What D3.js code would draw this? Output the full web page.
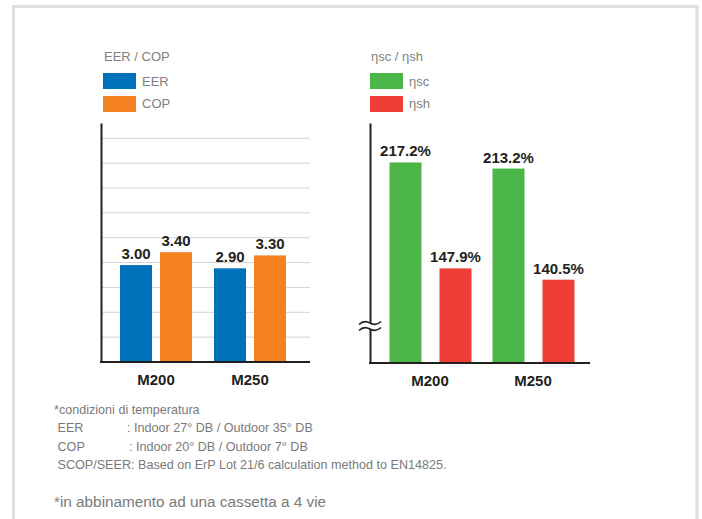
<!DOCTYPE html>
<html>
<head>
<meta charset="utf-8">
<script src="https://cdn.jsdelivr.net/npm/d3@7"></script>
<style>
  body { margin: 0; background: #fff; }
  svg text { font-family: "Liberation Sans", Arial, sans-serif; }
</style>
</head>
<body>
<div id="chart"></div>
<script>
// --- data ---
const models = ["M200", "M250"];

const efficiencySeries = ["EER", "COP"];
const eerValues = [3.00, 2.90];
const copValues = [3.40, 3.30];
const efficiencyLabels = ["3.00", "2.90"];
const copLabels = ["3.40", "3.30"];

const seasonalSeries = ["ηsc", "ηsh"];
const nscValues = [217.2, 213.2];
const nshValues = [147.9, 140.5];

const notes = [
  "*condizioni di temperatura",
  " EER",
  " COP",
  " SCOP/SEER: Based on ErP Lot 21/6 calculation method to EN14825."
];
const noteDetails = [null, ": Indoor 27° DB / Outdoor 35° DB", ": Indoor 20° DB / Outdoor 7° DB", null];
const footer = "*in abbinamento ad una cassetta a 4 vie";

const colors = {
  EER: "#0071bb", COP: "#f58220",
  "ηsc": "#4cb748", "ηsh": "#ee3e36"
};

// --- drawing ---
const W = 702, H = 519;
const svg = d3.select("#chart").append("svg")
  .attr("width", W).attr("height", H);

// frame
svg.append("rect")
  .attr("x", 13.5).attr("y", 6.5)
  .attr("width", 683.5).attr("height", 530)
  .attr("fill", "none").attr("stroke", "#dedede").attr("stroke-width", 3);

function legend(x, title, series) {
  const g = svg.append("g").attr("transform", `translate(${x},0)`);
  g.append("text").attr("x", 1).attr("y", 61)
    .attr("font-size", 13).attr("fill", "#808080").text(title);
  series.forEach((s, i) => {
    g.append("rect").attr("x", 0).attr("y", 73 + i * 23)
      .attr("width", 33).attr("height", 16).attr("fill", colors[s]);
    g.append("text").attr("x", 39).attr("y", 86 + i * 22)
      .attr("font-size", 13).attr("fill", "#808080").text(s);
  });
}

function barChart(opt) {
  const g = svg.append("g");
  const x = d3.scaleBand().domain(models).range(opt.band);
  const xs = d3.scaleBand().domain(opt.series).range(opt.inner).paddingInner(opt.pad);
  const y = d3.scaleLinear().domain(opt.domain).range([opt.base, 123]);

  if (opt.grid) {
    const gy = d3.scaleLinear().domain([0, 9]).range([opt.base, 138.3]);
    g.append("g").selectAll("line").data(d3.range(1, 10)).join("line")
      .attr("x1", opt.axisX).attr("x2", opt.right)
      .attr("y1", d => gy(d)).attr("y2", d => gy(d))
      .attr("stroke", "#d3d3d3").attr("stroke-width", 1);
  }

  const rows = [];
  models.forEach((m, i) => {
    opt.series.forEach((s, j) => {
      rows.push({ m, s, v: opt.values[j][i], label: opt.labels[j][i] });
    });
  });

  g.append("g").selectAll("rect").data(rows).join("rect")
    .attr("x", d => x(d.m) + xs(d.s))
    .attr("width", xs.bandwidth())
    .attr("y", d => y(d.v))
    .attr("height", d => opt.base - y(d.v))
    .attr("fill", d => colors[d.s]);

  g.append("g").selectAll("text").data(rows).join("text")
    .attr("x", d => x(d.m) + xs(d.s) + xs.bandwidth() / 2)
    .attr("y", d => y(d.v) - 6)
    .attr("text-anchor", "middle")
    .attr("font-size", 15).attr("font-weight", "bold").attr("fill", "#231f20")
    .text(d => d.label);

  // axes
  g.append("g").attr("transform", `translate(${opt.axisX},0)`)
    .call(d3.axisLeft(y).ticks(0).tickSizeOuter(0))
    .call(a => a.select(".domain").attr("stroke", "#231f20").attr("stroke-width", 2));
  g.append("line")
    .attr("x1", opt.axisX - 1).attr("x2", opt.right)
    .attr("y1", opt.base).attr("y2", opt.base)
    .attr("stroke", "#231f20").attr("stroke-width", 2);

  const ax = g.append("g").attr("transform", `translate(0,${opt.base})`)
    .call(d3.axisBottom(x).tickSize(0).tickPadding(12));
  ax.select(".domain").remove();
  ax.selectAll("text")
    .attr("font-size", 15).attr("font-weight", "bold").attr("fill", "#231f20")
    .attr("font-family", "Liberation Sans, Arial, sans-serif");

  if (opt.brk) {
    const by = opt.brk;
    g.append("rect").attr("x", opt.axisX - 3).attr("y", by - 3)
      .attr("width", 6).attr("height", 6).attr("fill", "#fff");
    [by - 3, by + 3].forEach(yy => {
      g.append("path")
        .attr("d", `M${opt.axisX - 11},${yy + 1.5} q5,-5 11,-1.5 t11,-1.5`)
        .attr("fill", "none").attr("stroke", "#231f20").attr("stroke-width", 1.6);
    });
  }
}

legend(103, "EER / COP", efficiencySeries);
legend(370, "ηsc / ηsh", seasonalSeries);

barChart({
  series: efficiencySeries,
  values: [eerValues, copValues],
  labels: [efficiencyLabels, copLabels],
  band: [109, 297], inner: [11, 83], pad: 0.2,
  domain: [0, 7.4], base: 362, axisX: 101, right: 310, grid: true
});

const pct = v => v.toFixed(1) + "%";
barChart({
  series: seasonalSeries,
  values: [nscValues, nshValues],
  labels: [nscValues.map(pct), nshValues.map(pct)],
  band: [378.5, 584.5], inner: [11, 93], pad: 0.36,
  domain: [86, 243], base: 363, axisX: 370, right: 590, brk: 326
});

// notes
const ng = svg.append("g").attr("font-size", 12.6).attr("fill", "#7a7a7a");
notes.forEach((t, i) => {
  ng.append("text").attr("x", 54).attr("y", 414 + i * 18.3)
    .attr("xml:space", "preserve").style("white-space", "pre").text(t);
  if (noteDetails[i]) {
    ng.append("text").attr("x", i === 1 ? 127 : 129).attr("y", 414 + i * 18.3).text(noteDetails[i]);
  }
});
svg.append("text").attr("x", 54).attr("y", 507)
  .attr("font-size", 15.3).attr("fill", "#7a7a7a").text(footer);
</script>
</body>
</html>
